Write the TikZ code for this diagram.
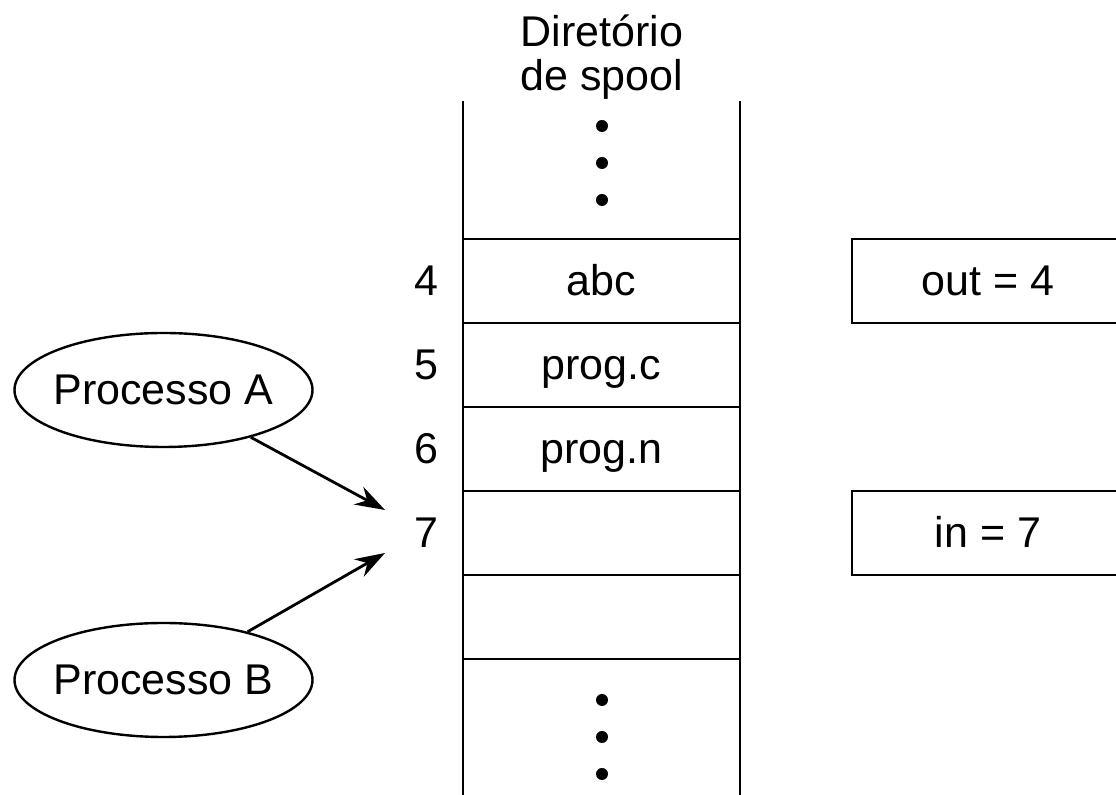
\documentclass[tikz,border=0pt]{standalone}
\usepackage{fontspec}
\setmainfont{Liberation Sans}
\usetikzlibrary{positioning,shapes.geometric,arrows.meta}

\tikzset{
  cell/.style={draw, line width=1.4pt, minimum width=138.5pt, minimum height=42pt, inner sep=0pt,
    text height=15pt, text depth=0pt},
  regbox/.style={draw, line width=1.4pt, minimum width=136pt, minimum height=42pt, inner sep=0pt,
    text height=15pt, text depth=0pt},
  proc/.style={draw, ellipse, line width=1.2pt, minimum width=149pt, minimum height=57pt,
    inner xsep=-3pt, inner ysep=0pt},
  slotnum/.style={inner sep=3.33pt},
  ptr/.style={line width=1.4pt, -{Stealth[length=15pt, width=10pt]}},
}

\begin{document}
\begin{tikzpicture}[x=1pt,y=1pt,yscale=-.5,xscale=.5]
\fontsize{21.5}{22}\selectfont
\useasboundingbox (0,0) rectangle (1116,795);

% title
\node (title) [align=center, inner sep=0pt] at (602,57) {Diret\'orio\\de spool};

% column walls
\draw [line width=1.4pt] (463,101) -- (463,795);
\draw [line width=1.4pt] (740,101) -- (740,795);

% slots
\node (c4) [cell] at (601.5,281) {abc};
\node (c5) [cell] at (601.5,365) {prog.c};
\node (c6) [cell] at (601.5,449) {prog.n};
\node (c7) [cell] at (601.5,533) {};
\node (c8) [cell] at (601.5,617) {};

% slot numbers
\node (n4) [slotnum, left=8pt of c4] {4};
\node (n5) [slotnum, left=8pt of c5] {5};
\node (n6) [slotnum, left=8pt of c6] {6};
\node (n7) [slotnum, left=8pt of c7] {7};

% dots
\foreach \y in {126,163,200,700,737,774}
  \fill (602,\y) circle (6);

% shared variables
\node (out) [regbox] at (988,281) {out = 4};
\node (in) [regbox] at (988,533) {in = 7};

% processes
\node (pA) [proc] at (163.5,390) {Processo A};
\node (pB) [proc] at (163.5,680) {Processo B};

\coordinate (tipA) at (385,510);
\coordinate (tipB) at (385,553);
\draw [ptr] (pA) -- (tipA);
\draw [ptr] (pB) -- (tipB);

\end{tikzpicture}
\end{document}
